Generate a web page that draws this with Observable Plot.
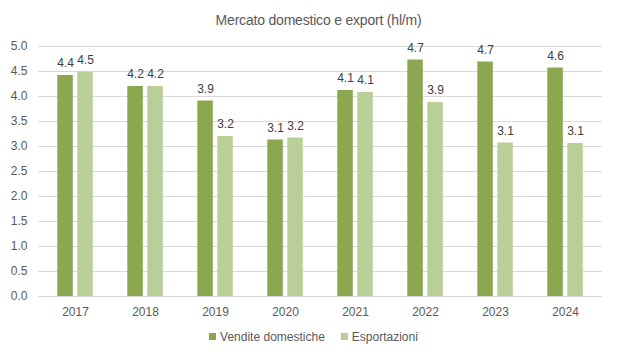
<!DOCTYPE html>
<html>
<head>
<meta charset="utf-8">
<script src="https://cdn.jsdelivr.net/npm/d3@7"></script>
<script src="https://cdn.jsdelivr.net/npm/@observablehq/plot@0.6"></script>
<style>
  body { margin: 0; background: #fff; font-family: "Liberation Sans", Arial, sans-serif; }
  #wrap { width: 617px; height: 360px; position: relative; }
  #title { height: 38px; line-height: 40px; text-align: center; font-size: 14px; color: #595959; padding-left: 20px; box-sizing: border-box; letter-spacing: -0.2px; }
  #legend { display: flex; justify-content: center; align-items: center; gap: 16px; font-size: 12px; color: #595959; margin-top: 6px; padding-left: 10px; }
  .sw { display: inline-block; width: 7px; height: 7px; margin-right: 4px; vertical-align: middle; position: relative; top: -1px; }
</style>
</head>
<body>
<div id="wrap">
  <div id="title">Mercato domestico e export (hl/m)</div>
  <div id="chart"></div>
  <div id="legend"></div>
</div>
<script>
const years = ["2017", "2018", "2019", "2020", "2021", "2022", "2023", "2024"];
const seriesNames = ["Vendite domestiche", "Esportazioni"];
const domestic = [4.42, 4.20, 3.91, 3.13, 4.12, 4.73, 4.69, 4.57];
const exportVals = [4.49, 4.20, 3.20, 3.17, 4.08, 3.88, 3.07, 3.06];
const colors = ["#8ba74f", "#bacf97"];
const yTicks = [0, 0.5, 1, 1.5, 2, 2.5, 3, 3.5, 4, 4.5, 5];

const domData = years.map((y, i) => ({year: y, value: domestic[i]}));
const expData = years.map((y, i) => ({year: y, value: exportVals[i]}));

const textColor = "#595959";

const chart = Plot.plot({
  width: 617,
  height: 286,
  marginTop: 8,
  marginBottom: 28,
  marginLeft: 38,
  marginRight: 15,
  style: { fontFamily: "Liberation Sans, Arial, sans-serif", fontSize: "12px", color: textColor, background: "#fff" },
  x: { domain: years, padding: 0, label: null },
  y: { domain: [0, 5], label: null },
  marks: [
    Plot.gridY(yTicks, { stroke: "#d9d9d9", strokeOpacity: 1 }),
    Plot.axisY(yTicks, { tickSize: 0, tickPadding: 11, tickFormat: d3.format(".1f"), label: null, fill: textColor, fontSize: 12 }),
    Plot.axisX({ tickSize: 0, tickPadding: 11, label: null, fill: textColor, fontSize: 12 }),
    Plot.barY(domData, { x: "year", y: "value", fill: colors[0], insetLeft: 17.3, insetRight: 37.2 }),
    Plot.barY(expData, { x: "year", y: "value", fill: colors[1], insetLeft: 37.3, insetRight: 17.2 }),
    Plot.text(domData, { x: "year", y: "value", text: d => d3.format(".1f")(d.value), dx: -10, dy: -12, fill: "#404040", fontSize: 12 }),
    Plot.text(expData, { x: "year", y: "value", text: d => d3.format(".1f")(d.value), dx: 10, dy: -12, fill: "#404040", fontSize: 12 })
  ]
});
document.getElementById("chart").appendChild(chart);

const legend = document.getElementById("legend");
seriesNames.forEach((name, i) => {
  const item = document.createElement("span");
  const sw = document.createElement("span");
  sw.className = "sw";
  sw.style.background = colors[i];
  item.appendChild(sw);
  item.appendChild(document.createTextNode(name));
  legend.appendChild(item);
});
</script>
</body>
</html>
